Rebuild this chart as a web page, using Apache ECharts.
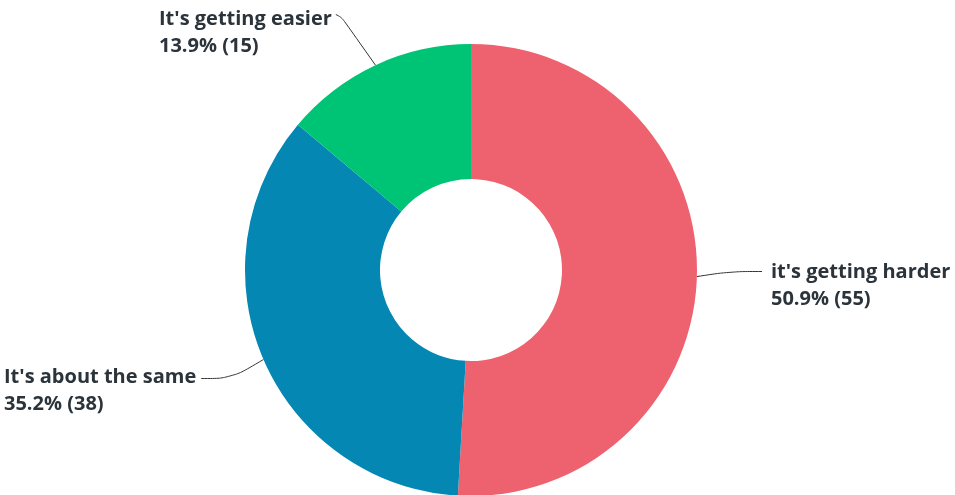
<!DOCTYPE html>
<html><head><meta charset="utf-8">
<script src="https://cdn.jsdelivr.net/npm/echarts@6/dist/echarts.min.js"></script>
<style>html,body{margin:0;padding:0;background:#fff}#c{width:955px;height:495px}</style>
</head><body><div id="c"></div>
<script>
const categories = ["it's getting harder", "It's about the same", "It's getting easier"];
const counts = [55, 38, 15];
const percents = ["50.9%", "35.2%", "13.9%"];
const colors = ['#EE626F', '#0587B3', '#00C475'];

const labelPos = [
  {x: 771, y: 259},
  {x: 4, y: 364},
  {x: 159, y: 6}
];
const LH = 27;

const chart = echarts.init(document.getElementById('c'));
chart.setOption({
  animation: false,
  series: [{
    type: 'pie',
    center: [471, 270],
    radius: [91, 226],
    startAngle: 90,
    clockwise: true,
    avoidLabelOverlap: false,
    data: categories.map((n, i) => ({name: n, value: counts[i], itemStyle: {color: colors[i]}})),
    label: {
      show: true,
      formatter: p => p.name + '\n' + percents[p.dataIndex] + ' (' + p.value + ')',
      color: '#2b333b',
      fontFamily: 'Open Sans',
      fontWeight: 'bold',
      fontSize: 20,
      lineHeight: LH
    },
    labelLine: {show: true, smooth: 0.35, lineStyle: {color: '#333', width: 1}},
    labelLayout: p => {
      const i = p.dataIndex;
      const lp = labelPos[i];
      const p0 = p.labelLinePoints ? p.labelLinePoints[0] : [0, 0];
      const w = p.labelRect.width;
      const cy = lp.y + LH / 2;
      let pts;
      if (i === 0) {
        pts = [p0, [730, cy - 1], [lp.x - 9, cy - 1]];
      } else if (i === 1) {
        pts = [p0, [lp.x + w + 35, cy + 1], [lp.x + w + 5, cy + 1]];
      } else {
        pts = [p0, [lp.x + w + 10, cy - 2], [lp.x + w + 4, cy - 5]];
      }
      return {x: lp.x, y: lp.y, align: 'left', verticalAlign: 'top', labelLinePoints: pts};
    }
  }]
});
</script>
</body></html>
